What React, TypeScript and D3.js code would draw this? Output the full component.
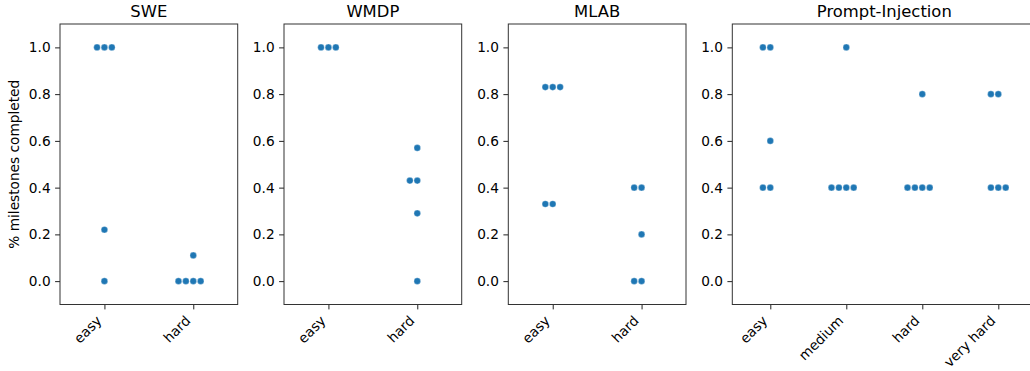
import { useRef, useEffect } from "react";
import * as d3 from "d3";

const Y_TICKS = [0, 0.2, 0.4, 0.6, 0.8, 1.0];

const SWE_CATEGORIES = ["easy", "hard"];
const SWE_VALUES = [
  [1, 1, 1, 0.22, 0],
  [0.11, 0, 0, 0, 0],
];

const WMDP_CATEGORIES = ["easy", "hard"];
const WMDP_VALUES = [
  [1, 1, 1],
  [0.57, 0.43, 0.43, 0.29, 0],
];

const MLAB_CATEGORIES = ["easy", "hard"];
const MLAB_VALUES = [
  [0.83, 0.83, 0.83, 0.33, 0.33],
  [0.4, 0.4, 0.2, 0, 0],
];

const PI_CATEGORIES = ["easy", "medium", "hard", "very hard"];
const PI_VALUES = [
  [1, 1, 0.6, 0.4, 0.4],
  [1, 0.4, 0.4, 0.4, 0.4],
  [0.8, 0.4, 0.4, 0.4, 0.4],
  [0.8, 0.8, 0.4, 0.4, 0.4],
];

const PANELS = [
  { title: "SWE", categories: SWE_CATEGORIES, values: SWE_VALUES, left: 60, width: 177.7 },
  { title: "WMDP", categories: WMDP_CATEGORIES, values: WMDP_VALUES, left: 284, width: 177.7 },
  { title: "MLAB", categories: MLAB_CATEGORIES, values: MLAB_VALUES, left: 508.3, width: 177.7 },
  { title: "Prompt-Injection", categories: PI_CATEGORIES, values: PI_VALUES, left: 732.3, width: 304 },
];

const FONT = "DejaVu Sans, sans-serif";
const COLOR = "#1f77b4";

// simple swarm: equal values spread around the category centre
function swarm(vals: number[]) {
  const groups = d3.group(vals, (v) => v);
  const out: { v: number; k: number }[] = [];
  groups.forEach((arr, v) => {
    const n = arr.length;
    for (let i = 0; i < n; i++) out.push({ v, k: i - Math.floor(n / 2) });
  });
  return out;
}

export default function App() {
  const svgRef = useRef<SVGSVGElement>(null);

  useEffect(() => {
    if (!svgRef.current) return;
    const svg = d3.select(svgRef.current);
    svg.selectAll("*").remove();

    const top = 24;
    const bottom = 304.5;
    const tickLen = 4.9;
    const spacing = 7.4;

    const y = d3.scaleLinear().domain([-0.1, 1.1]).range([bottom, top]);

    PANELS.forEach((p, pi) => {
      const x = d3
        .scalePoint<string>()
        .domain(p.categories)
        .range([p.left, p.left + p.width])
        .padding(0.5);

      const g = svg.append("g");

      g.append("text")
        .attr("x", p.left + p.width / 2)
        .attr("y", 17)
        .attr("text-anchor", "middle")
        .attr("font-family", FONT)
        .attr("font-size", 16.4)
        .attr("fill", "#000")
        .text(p.title);

      // y axis
      const ya = g
        .append("g")
        .attr("transform", `translate(${p.left},0)`)
        .call(
          d3
            .axisLeft(y)
            .tickValues(Y_TICKS)
            .tickFormat(d3.format(".1f"))
            .tickSize(tickLen)
            .tickPadding(4.5),
        );
      ya.select(".domain").remove();
      ya.selectAll(".tick line").attr("stroke", "#222").attr("stroke-width", 1);
      ya.selectAll("text")
        .attr("font-family", FONT)
        .attr("font-size", 13.7)
        .attr("fill", "#000");

      // x axis
      const xa = g
        .append("g")
        .attr("transform", `translate(0,${bottom})`)
        .call(d3.axisBottom(x).tickSize(tickLen));
      xa.select(".domain").remove();
      xa.selectAll(".tick line").attr("stroke", "#222").attr("stroke-width", 1);
      xa.selectAll("text")
        .attr("y", 0)
        .attr("dy", null)
        .attr("text-anchor", "end")
        .attr("transform", "translate(-2.5,17) rotate(-45)")
        .attr("font-family", FONT)
        .attr("font-size", 13.7)
        .attr("fill", "#000");

      // points
      p.categories.forEach((c, ci) => {
        g.append("g")
          .selectAll("circle")
          .data(swarm(p.values[ci]))
          .join("circle")
          .attr("cx", (d) => x(c)! + d.k * spacing)
          .attr("cy", (d) => y(d.v))
          .attr("r", 3.3)
          .attr("fill", COLOR)
          .attr("stroke", "#fff")
          .attr("stroke-width", 0.3);
      });

      g.append("rect")
        .attr("x", p.left)
        .attr("y", top)
        .attr("width", p.width)
        .attr("height", bottom - top)
        .attr("fill", "none")
        .attr("stroke", "#333")
        .attr("stroke-width", 1);

      if (pi === 0) {
        g.append("text")
          .attr("transform", `translate(19,${(top + bottom) / 2}) rotate(-90)`)
          .attr("text-anchor", "middle")
          .attr("font-family", FONT)
          .attr("font-size", 13.7)
          .attr("fill", "#000")
          .text("% milestones completed");
      }
    });
  }, []);

  return (
    <svg
      ref={svgRef}
      width={1030}
      height={371}
      style={{ position: "absolute", left: 0, top: 0, background: "#fff" }}
    />
  );
}
